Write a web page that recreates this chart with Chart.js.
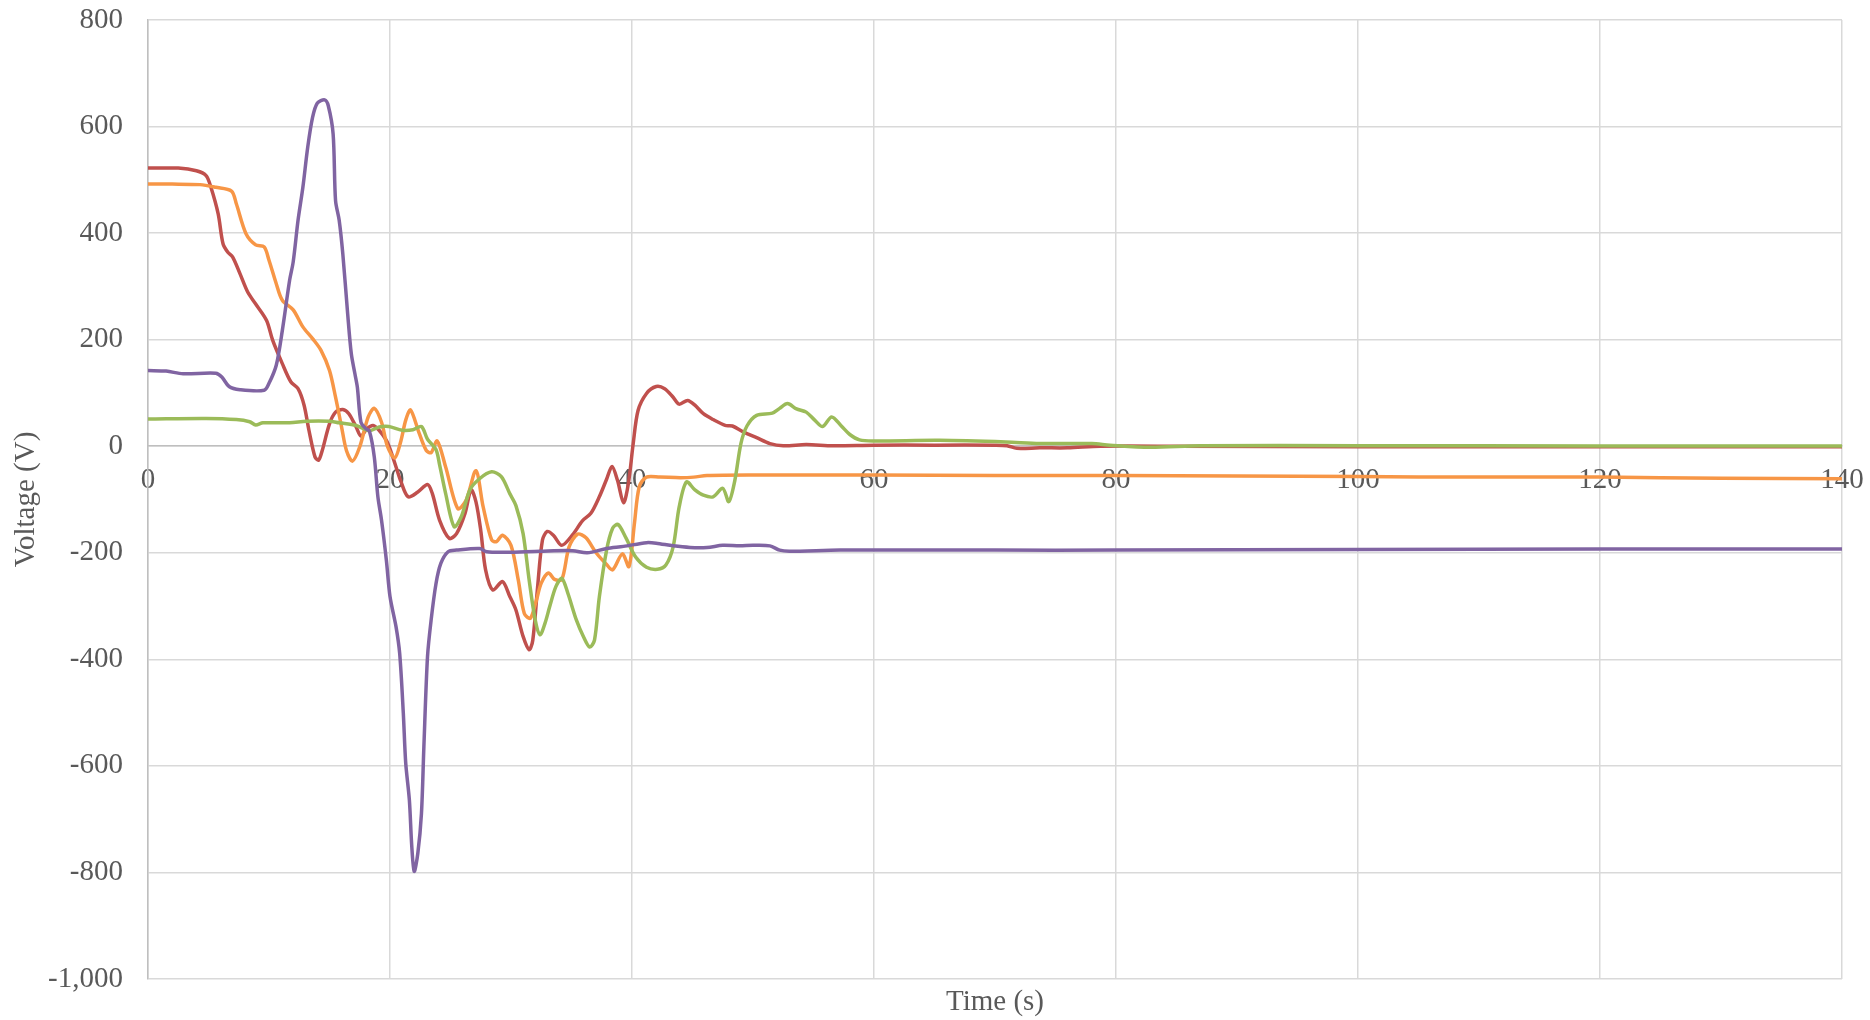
<!DOCTYPE html>
<html>
<head>
<meta charset="utf-8">
<title>Voltage vs Time</title>
<style>
  html, body { margin: 0; padding: 0; background: #ffffff; }
  #wrap { width: 1870px; height: 1020px; position: relative; }
</style>
<script src="https://cdn.jsdelivr.net/npm/chart.js@4.4.1/dist/chart.umd.min.js"></script>
</head>
<body>
<div id="wrap"><canvas id="chart"></canvas></div>
<script>
// Tick values
const xTicks = [0, 20, 40, 60, 80, 100, 120, 140];
const yTicks = [-1000, -800, -600, -400, -200, 0, 200, 400, 600, 800];

// Red trace
const redTime = [0, 2.5, 4, 4.8, 5.2, 5.8, 6.2, 6.6, 7.0, 7.6, 8.25, 8.9, 9.8, 10.3, 11.1, 11.8, 12.4, 12.9, 13.3, 13.8, 14.1, 14.4, 15.0, 15.5, 16.1, 16.6, 17.2, 17.6, 18.1, 18.6, 19.1, 19.7, 20.0, 20.5, 20.9, 21.5, 22.3, 23.1, 23.5, 24.1, 24.9, 25.5, 26.2, 26.7, 27.1, 27.5, 27.9, 28.5, 29.3, 29.9, 30.4, 31.0, 31.5, 31.8, 32.2, 32.6, 33.0, 33.5, 34.2, 35.1, 35.9, 36.6, 37.3, 37.9, 38.35, 38.8, 39.3, 39.7, 40.1, 40.5, 41.2, 42.0, 42.7, 43.4, 43.9, 44.6, 45.2, 45.9, 46.7, 47.7, 48.3, 49.2, 50.3, 51.4, 52.5, 54.4, 56.6, 60, 65, 70, 71.0, 71.8, 73.7, 76, 78.7, 85, 100, 110, 120, 140];
const redVolt = [522, 522, 517, 508, 486, 436, 380, 364, 355, 324, 289, 267, 236, 199, 155, 121, 108, 77, 30, -20, -26, -8, 42, 64, 69, 61, 36, 19, 33, 39, 30, 11, -5, -39, -66, -95, -86, -72, -89, -139, -173, -164, -126, -82, -104, -158, -232, -270, -254, -282, -307, -357, -382, -364, -264, -176, -160, -167, -186, -166, -140, -126, -95, -62, -38, -64, -106, -70, 5, 67, 99, 112, 108, 92, 79, 86, 77, 61, 50, 39, 38, 27, 16, 5, 1, 3, 1, 2, 2, 2, 1, -4, -3, -3, 0, 0, -1, -1, -1, -1];

// Orange trace
const orangeTime = [0, 2, 4.3, 5.6, 6.9, 7.3, 8.1, 8.9, 9.6, 10.0, 10.6, 11.1, 12.0, 12.8, 13.6, 14.3, 15.0, 15.5, 16.0, 16.4, 16.9, 17.5, 18.2, 18.7, 19.3, 19.8, 20.4, 20.9, 21.3, 21.7, 22.4, 23.0, 23.4, 23.9, 24.6, 25.6, 26.3, 27.1, 27.7, 28.4, 28.8, 29.3, 30.0, 30.6, 31.1, 31.6, 32.1, 32.5, 33.1, 33.6, 34.2, 34.8, 35.5, 36.2, 37.0, 37.9, 38.4, 39.2, 39.75, 40.2, 40.6, 41.2, 42.3, 44.0, 45.1, 46.2, 50, 60, 70, 80, 90, 100, 110, 120, 130, 140];
const orangeVolt = [492, 492, 491, 486, 479, 455, 399, 378, 374, 349, 305, 274, 256, 224, 202, 180, 142, 92, 36, -8, -28, -1, 55, 71, 45, -1, -22, 10, 49, 68, 25, -8, -12, 10, -39, -117, -101, -46, -114, -176, -179, -167, -186, -251, -314, -323, -289, -257, -238, -250, -250, -189, -165, -172, -199, -222, -232, -202, -226, -145, -76, -58, -58, -59, -58, -55, -54, -54, -55, -55, -56, -57, -58, -58, -60, -61];

// Green trace
const greenTime = [0, 4.8, 7.3, 8.4, 8.9, 9.5, 11.7, 13.1, 15.0, 15.8, 17.2, 18.3, 19.1, 19.9, 21.0, 21.9, 22.6, 23.1, 23.8, 24.1, 24.6, 25.3, 25.9, 26.6, 27.4, 28.4, 29.2, 29.9, 30.4, 31.0, 31.5, 32.0, 32.4, 32.8, 33.2, 33.7, 34.2, 34.7, 35.4, 36.0, 36.5, 36.9, 37.3, 37.9, 38.4, 38.85, 39.5, 40.3, 41.2, 42.1, 42.8, 43.4, 43.9, 44.5, 45.2, 45.9, 46.7, 47.5, 48.0, 48.5, 49.0, 49.5, 50.3, 51.6, 52.2, 52.85, 53.6, 54.4, 55.1, 55.75, 56.5, 57.3, 58.0, 58.8, 60, 65.4, 70.9, 73.7, 78, 79.5, 82.8, 87, 100, 120, 140];
const greenVolt = [51, 52, 50, 46, 40, 44, 44, 47, 47, 44, 39, 29, 36, 37, 30, 31, 37, 13, -6, -35, -89, -151, -132, -82, -61, -48, -57, -89, -111, -164, -251, -326, -354, -333, -301, -264, -248, -276, -326, -358, -377, -364, -283, -195, -154, -147, -172, -208, -227, -231, -223, -189, -114, -67, -82, -92, -95, -79, -104, -64, 5, 38, 58, 62, 71, 80, 70, 64, 49, 37, 55, 38, 22, 12, 10, 11, 8, 5, 5, 2, -2, 1, 1, 0.5, 0.5];

// Purple trace
const purpleTime = [0, 1.5, 2.9, 5.6, 6.1, 6.7, 7.6, 9.6, 10.0, 10.6, 11.1, 11.7, 12.0, 12.4, 12.8, 13.2, 13.6, 14.0, 14.6, 14.9, 15.3, 15.5, 15.8, 16.1, 16.5, 16.8, 17.1, 17.3, 17.6, 18.0, 18.3, 18.7, 19.0, 19.3, 19.7, 20.0, 20.5, 20.8, 21.1, 21.3, 21.6, 21.8, 22.0, 22.3, 22.6, 22.8, 23.1, 23.4, 23.8, 24.2, 24.8, 25.5, 27.4, 28.0, 29.6, 32.4, 35.1, 36.3, 37.9, 39.3, 41.2, 42.0, 43.4, 44.8, 46.2, 47.5, 48.9, 50.0, 51.4, 52.2, 53.0, 57.2, 70, 80, 100, 120, 140];
const purpleVolt = [142, 141, 136, 137, 130, 112, 106, 105, 118, 152, 217, 311, 346, 424, 486, 561, 617, 644, 650, 639, 586, 461, 424, 361, 249, 174, 136, 111, 45, 33, 28, -20, -95, -139, -214, -282, -339, -389, -501, -595, -664, -751, -798, -764, -689, -564, -395, -326, -258, -220, -198, -195, -192, -198, -199, -197, -196, -200, -192, -188, -181, -182, -187, -190, -190, -186, -187, -186, -187, -195, -197, -195, -195, -195, -194, -193, -193];

const FONT = '"Liberation Serif", "Times New Roman", serif';
const TEXT = '#595959';

function points(times, volts) {
  return times.map((t, i) => ({ x: t, y: volts[i] }));
}

function trace(values, color, order) {
  return {
    data: values,
    borderColor: color,
    backgroundColor: color,
    borderWidth: 3.5,
    pointRadius: 0,
    tension: 0.3,
    fill: false,
    order: order,
    xAxisID: 'x',
    yAxisID: 'y'
  };
}

new Chart(document.getElementById('chart'), {
  type: 'line',
  data: {
    datasets: [
      trace(points(redTime, redVolt), '#C0504D', 4),
      trace(points(orangeTime, orangeVolt), '#F79646', 3),
      trace(points(greenTime, greenVolt), '#9BBB59', 2),
      trace(points(purpleTime, purpleVolt), '#8064A2', 1)
    ]
  },
  options: {
    responsive: true,
    maintainAspectRatio: false,
    animation: false,
    layout: { padding: { top: 20, right: 28, bottom: 0, left: 0 } },
    plugins: { legend: { display: false }, tooltip: { enabled: false } },
    scales: {
      x: {
        type: 'linear',
        position: { y: 0 },
        min: 0,
        max: 140,
        afterBuildTicks: (s) => { s.ticks = xTicks.map(v => ({ value: v })); },
        afterFit: (s) => { s.paddingLeft = 0; s.paddingRight = 0; },
        grid: { color: '#D9D9D9', lineWidth: 1.5, drawTicks: false },
        border: { color: '#BFBFBF', width: 1.5 },
        ticks: { padding: 17, color: TEXT, font: { family: FONT, size: 29 }, maxRotation: 0 }
      },
      xt: {
        type: 'linear',
        axis: 'x',
        position: 'bottom',
        min: 0,
        max: 140,
        grid: { display: false, drawTicks: false },
        border: { display: false },
        ticks: { display: false },
        title: { display: true, text: 'Time (s)', color: TEXT, font: { family: FONT, size: 29 }, padding: { top: 0, bottom: 0 } },
        afterFit: (s) => { s.height = 41; s.paddingLeft = 0; s.paddingRight = 0; }
      },
      y: {
        type: 'linear',
        position: 'left',
        min: -1000,
        max: 800,
        afterBuildTicks: (s) => { s.ticks = yTicks.map(v => ({ value: v })); },
        grid: { color: '#D9D9D9', lineWidth: 1.5, drawTicks: false },
        border: { color: '#BFBFBF', width: 1.5 },
        ticks: { padding: 25, color: TEXT, font: { family: FONT, size: 29 } },
        title: { display: true, text: 'Voltage (V)', color: TEXT, font: { family: FONT, size: 29 }, padding: { top: 9, bottom: 0 } },
        afterFit: (s) => { s.width = 148; s.paddingTop = 0; s.paddingBottom = 0; }
      }
    }
  }
});
</script>
</body>
</html>
